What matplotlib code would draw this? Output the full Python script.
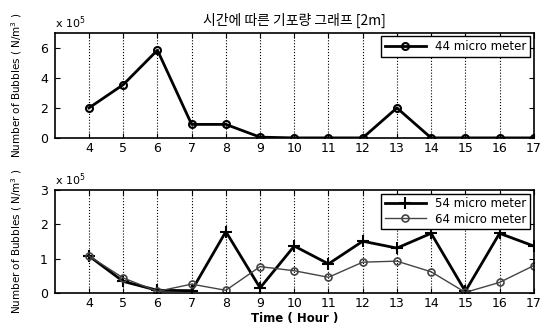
import matplotlib.pyplot as plt
import matplotlib as mpl

hours = [4, 5, 6, 7, 8, 9, 10, 11, 12, 13, 14, 15, 16, 17]
bubbles_44 = [2.0, 3.55, 5.85, 0.9, 0.9, 0.05, 0.0, 0.0, 0.0, 2.0, 0.0, 0.0, 0.0, 0.0]
bubbles_54 = [1.08, 0.34, 0.08, 0.07, 1.79, 0.15, 1.37, 0.85, 1.51, 1.31, 1.74, 0.05, 1.74, 1.37]
bubbles_64 = [1.08, 0.44, 0.05, 0.26, 0.08, 0.77, 0.65, 0.46, 0.9, 0.93, 0.62, 0.02, 0.31, 0.8]

mpl.rcParams['font.family'] = ['DejaVu Sans', 'Noto Sans CJK KR']
plt.rcParams['font.size'] = 9

fig = plt.figure(figsize=(5.48, 3.26), dpi=100)
ax1 = fig.add_axes([0.100, 0.577, 0.874, 0.322])
ax2 = fig.add_axes([0.100, 0.101, 0.874, 0.316])

ax1.plot(hours, bubbles_44, color='black', lw=2, marker='o', ms=5,
         mfc='none', mew=1.5, label='44 micro meter')
ax2.plot(hours, bubbles_54, color='black', lw=2, marker='+', ms=8,
         mew=1.5, label='54 micro meter')
ax2.plot(hours, bubbles_64, color='#444444', lw=1, marker='o', ms=5,
         mfc='none', mew=1.2, label='64 micro meter')

ylabel = 'Number of Bubbles ( N/m$^3$ )'
for ax, top, ticks in [(ax1, 7, [0, 2, 4, 6]), (ax2, 3, [0, 1, 2, 3])]:
    ax.set_xlim(3, 17)
    ax.set_ylim(0, top)
    ax.set_xticks(hours)
    ax.set_yticks(ticks)
    ax.grid(axis='x', color='black', linestyle=':', lw=0.8)
    ax.tick_params(direction='in', top=True, right=True, labelsize=9)
    ax.tick_params(axis='x', pad=3)
    ax.tick_params(axis='y', pad=5)
    for s in ax.spines.values():
        s.set_linewidth(1.2)
    ax.set_ylabel(ylabel, fontsize=7.5)
    ax.text(0, 1.02, 'x 10$^5$', transform=ax.transAxes, fontsize=8, va='bottom')
    ax.legend(loc='upper right', frameon=True, fancybox=False, edgecolor='black',
              framealpha=1, fontsize=8.5, handlelength=3.5, borderpad=0.3,
              labelspacing=0.2, borderaxespad=0.3)

ax1.yaxis.set_label_coords(-0.065, 0.5)
ax2.yaxis.set_label_coords(-0.065, 0.5)
ax1.set_title('시간에 따른 기포량 그래프 [2m]', fontsize=10,
              family=['Noto Sans CJK KR', 'DejaVu Sans'], pad=6)
ax2.set_xlabel('Time ( Hour )', fontweight='bold', fontsize=8.5, labelpad=1)

plt.savefig('out.png', dpi=100)
plt.close()
